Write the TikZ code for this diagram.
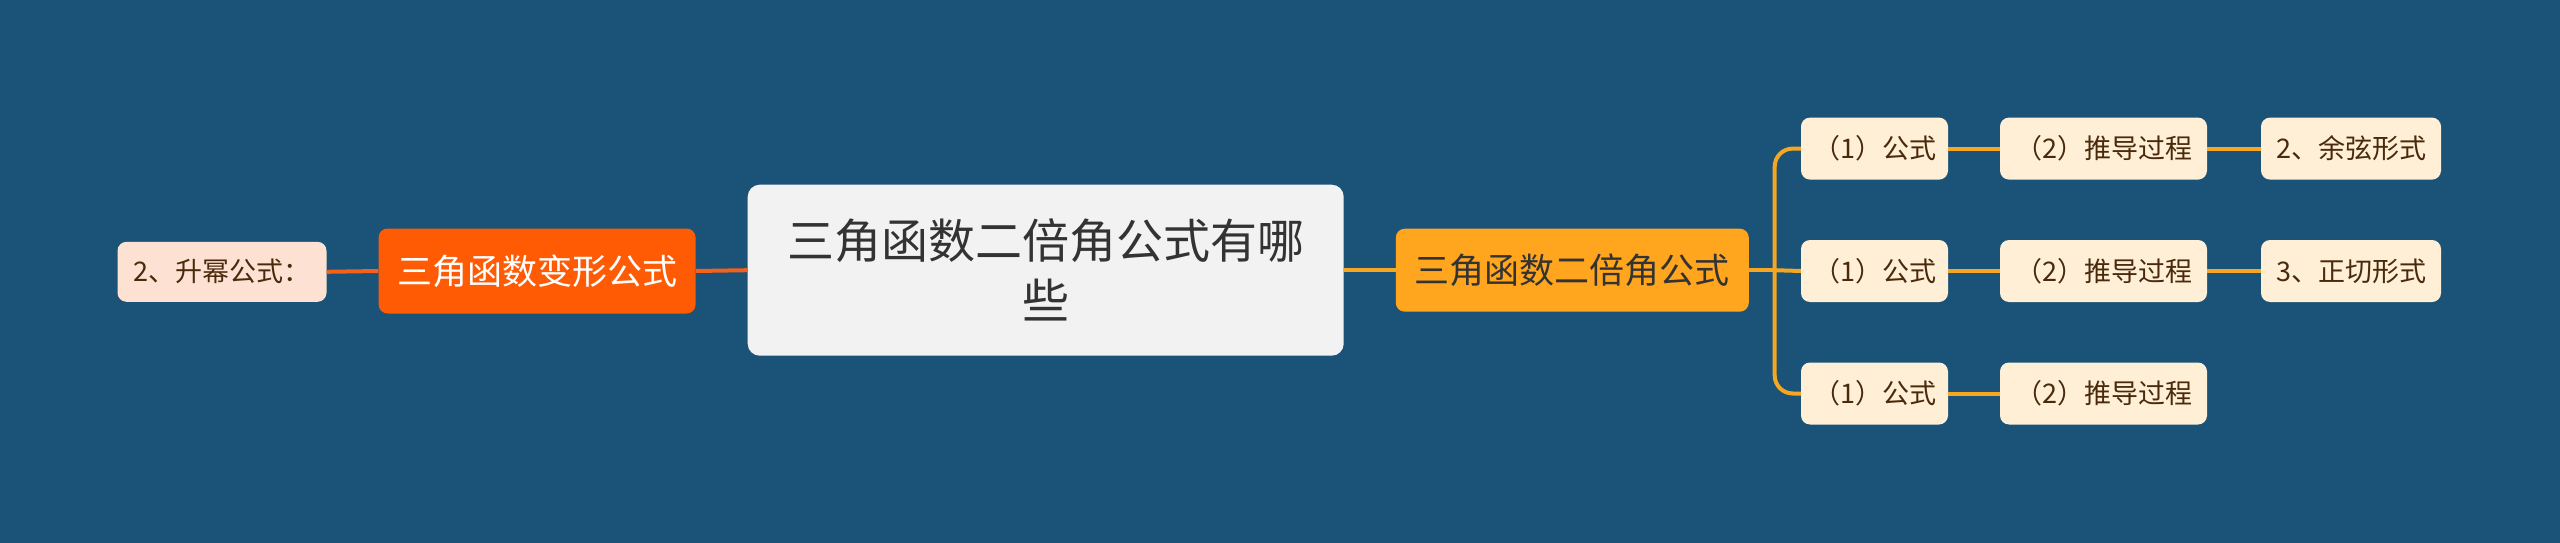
\documentclass[tikz,border=0pt]{standalone}
\usepackage{fontspec}
\setmainfont{Noto Sans CJK SC}
\definecolor{bg}{HTML}{1A5377}
\definecolor{rootfill}{HTML}{F2F2F2}
\definecolor{roottext}{HTML}{333333}
\definecolor{orangefill}{HTML}{FF5B05}
\definecolor{orangeline}{HTML}{F5601A}
\definecolor{yellowfill}{HTML}{FFA51E}
\definecolor{yellowline}{HTML}{F5A623}
\definecolor{peachfill}{HTML}{FDE2D4}
\definecolor{creamfill}{HTML}{FEEFD6}
\definecolor{leaftext}{HTML}{4A2A0C}
\begin{document}
\begin{tikzpicture}[x=1pt,y=1pt,
  box/.style={rounded corners=9pt, inner sep=0pt, align=center},
  rootbox/.style={box, rounded corners=12pt, fill=rootfill, text=roottext, font=\fontsize{47}{60}\selectfont},
  orangebox/.style={box, fill=orangefill, text=white, font=\fontsize{35}{40}\selectfont},
  yellowbox/.style={box, fill=yellowfill, text=roottext, font=\fontsize{35}{40}\selectfont},
  peachbox/.style={box, fill=peachfill, text=leaftext, font=\fontsize{27}{32}\selectfont},
  leafbox/.style={box, fill=creamfill, text=leaftext, font=\fontsize{27}{32}\selectfont, minimum height=62pt},
  oline/.style={draw=orangeline, line width=4pt},
  yline/.style={draw=yellowline, line width=4pt},
]
\fill[bg] (0,0) rectangle (2560,-543);
\useasboundingbox (0,0) rectangle (2560,-543);

\node[rootbox, minimum width=596pt, minimum height=171pt] (root) at (1045.7,-270.2) {三角函数二倍角公式有哪\\些};
\node[orangebox, minimum width=317pt, minimum height=85pt] (L1) at (537.1,-271) {三角函数变形公式};
\node[peachbox, minimum width=209pt, minimum height=60pt] (L2) at (222,-271.8) {2、升幂公式：};
\node[yellowbox, minimum width=353pt, minimum height=83pt] (R) at (1572.3,-270.2) {三角函数二倍角公式};
\coordinate (bx) at (1774.7,-270.2);

\node[leafbox, minimum width=147pt] (a1) at (1874.5,-148.6) {（1）公式};
\node[leafbox, minimum width=207pt] (a2) at (2103.5,-148.6) {（2）推导过程};
\node[leafbox, minimum width=180pt] (a3) at (2351,-148.6) {2、余弦形式};
\node[leafbox, minimum width=147pt] (b1) at (1874.5,-271) {（1）公式};
\node[leafbox, minimum width=207pt] (b2) at (2103.5,-271) {（2）推导过程};
\node[leafbox, minimum width=180pt] (b3) at (2351,-271) {3、正切形式};
\node[leafbox, minimum width=147pt] (c1) at (1874.5,-393.5) {（1）公式};
\node[leafbox, minimum width=207pt] (c2) at (2103.5,-393.5) {（2）推导过程};

\draw[oline] (root.west) -- (L1.east);
\draw[oline] (L1.west) -- (L2.east);
\draw[yline] (root.east) -- (R.west);
\draw[yline] (R.east) -- (bx);
\draw[yline, rounded corners=18pt] (a1.west) -| (bx) |- (c1.west);
\draw[yline] (bx) -- (b1.west);
\draw[yline] (a1.east) -- (a2.west);
\draw[yline] (a2.east) -- (a3.west);
\draw[yline] (b1.east) -- (b2.west);
\draw[yline] (b2.east) -- (b3.west);
\draw[yline] (c1.east) -- (c2.west);
\end{tikzpicture}
\end{document}
